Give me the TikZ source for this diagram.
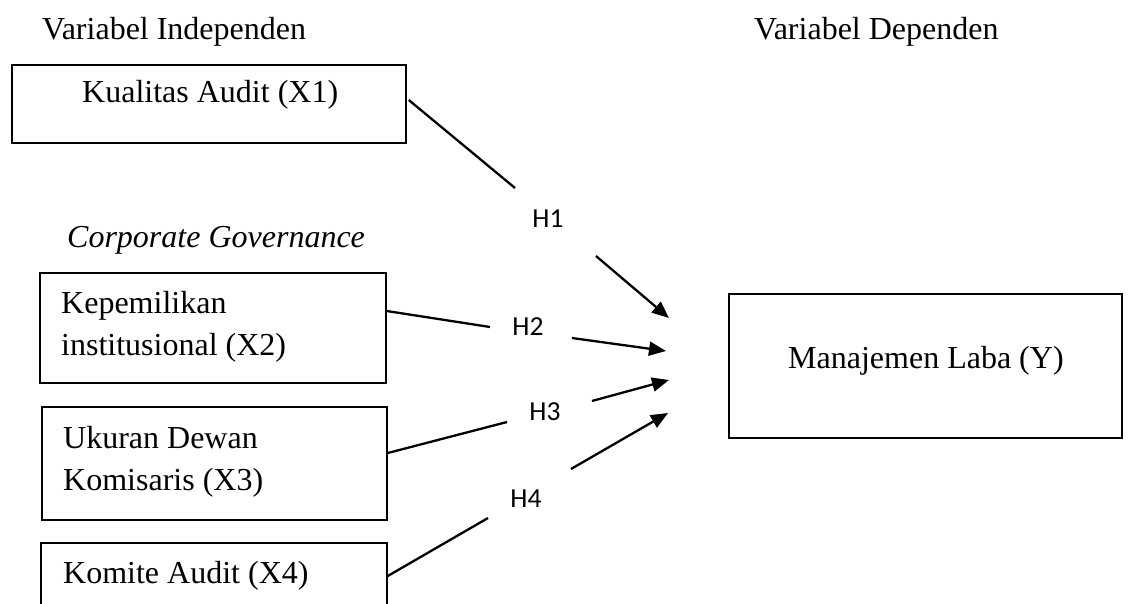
\documentclass[tikz,border=0pt]{standalone}
\usepackage{fontspec}
\setmainfont{Liberation Serif}
\newfontfamily\calib{Carlito}
\usetikzlibrary{arrows.meta}
\begin{document}
\begin{tikzpicture}[x=1pt,y=-1pt,
  box/.style={draw,line width=1.5pt,inner sep=0pt},
  lbl/.style={font=\fontsize{32}{42}\selectfont,anchor=base west,inner sep=0pt,align=left},
  hlab/.style={font=\calib\fontsize{27.5}{32}\selectfont,inner sep=0pt},
  conn/.style={line width=2.3pt},
  arr/.style={line width=2.3pt,-{Triangle[length=17pt,width=14pt]}}]
\clip (0,0) rectangle (1128,603);
\fill[white] (0,0) rectangle (1128,603);

% titles
\node[lbl] (tind) at (42,39) {Variabel Independen};
\node[lbl] (tdep) at (754,39) {Variabel Dependen};
\node[lbl,font=\fontsize{32}{42}\selectfont\itshape] (tcg) at (67,247) {Corporate Governance};

% boxes
\node[box,minimum width=394pt,minimum height=78pt] (x1) at (209,104) {};
\node[box,minimum width=346pt,minimum height=110pt] (x2) at (213,328) {};
\node[box,minimum width=345pt,minimum height=113pt] (x3) at (214.5,463.5) {};
\node[box,minimum width=346pt,minimum height=77pt] (x4) at (214,581.5) {};
\node[box,minimum width=393pt,minimum height=144pt] (y) at (925.5,366) {};

% box texts
\node[lbl] (x1t) at (82,102) {Kualitas Audit (X1)};
\node[lbl] (x2t) at (61,313) {Kepemilikan};
\node[lbl] (x2u) at (61,355) {institusional (X2)};
\node[lbl] (x3t) at (63,448) {Ukuran Dewan};
\node[lbl] (x3u) at (63,490) {Komisaris (X3)};
\node[lbl] (x4t) at (63,583) {Komite Audit (X4)};
\node[lbl] (yt) at (788,368) {Manajemen Laba (Y)};

% hypothesis labels
\node[hlab] (h1) at (548,219) {H1};
\node[hlab] (h2) at (528,327) {H2};
\node[hlab] (h3) at (545,412) {H3};
\node[hlab] (h4) at (526,499) {H4};

% gap ends and tips
\coordinate (h1a) at (515,188); \coordinate (h1b) at (596,256); \coordinate (t1) at (669,318);
\coordinate (h2a) at (490,327); \coordinate (h2b) at (572,338); \coordinate (t2) at (666,351);
\coordinate (h3a) at (507,422); \coordinate (h3b) at (592,401); \coordinate (t3) at (669,380);
\coordinate (h4a) at (488,518); \coordinate (h4b) at (571,469); \coordinate (t4) at (668,413);

\draw[conn] ([xshift=2pt,yshift=4pt]x1.east) -- (h1a);
\draw[arr] (h1b) -- (t1);
\draw[conn] ([yshift=17pt]x2.east) -- (h2a);
\draw[arr] (h2b) -- (t2);
\draw[conn] ([yshift=10.5pt]x3.east) -- (h3a);
\draw[arr] (h3b) -- (t3);
\draw[conn] ([yshift=5.5pt]x4.east) -- (h4a);
\draw[arr] (h4b) -- (t4);
\end{tikzpicture}
\end{document}
